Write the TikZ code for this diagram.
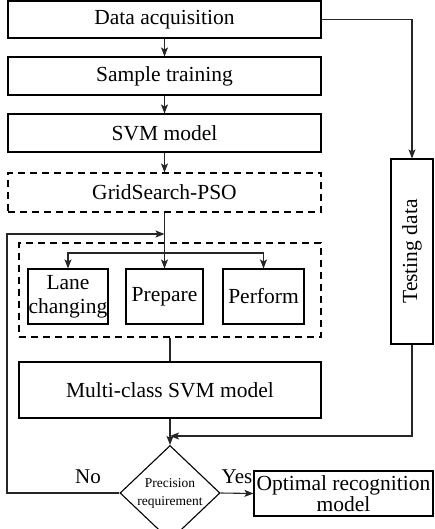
\documentclass[tikz,border=0pt]{standalone}
\usepackage{fontspec}
\setmainfont{Liberation Serif}
\usetikzlibrary{shapes.geometric,arrows.meta}
\tikzset{
  box/.style={draw, line width=1.1pt, inner sep=0pt, align=center, font=\fontsize{21.5}{24}\selectfont},
  dbox/.style={box, dash pattern=on 7pt off 5pt},
  arr/.style={-{Stealth[length=9pt,width=7pt,inset=2pt]}},
  ln/.style={line width=1.1pt, draw=black!85},
  lbl/.style={font=\fontsize{21}{23}\selectfont, inner sep=0pt}
}
\begin{document}
\begin{tikzpicture}[x=1pt,y=-1pt]
\useasboundingbox (0,0) rectangle (434,529);
% main column
\node[box, minimum width=313pt, minimum height=37pt] (da) at (164.5,19.5) {Data acquisition};
\node[box, minimum width=313pt, minimum height=38pt] (st) at (164.5,76) {Sample training};
\node[box, minimum width=313pt, minimum height=38pt] (svm) at (164.5,133) {SVM model};
\node[dbox, minimum width=313pt, minimum height=39pt] (gs) at (164.5,192.5) {GridSearch-PSO};
\node[dbox, minimum width=302pt, minimum height=94pt] (inner) at (170,290) {};
\node[box, minimum width=80pt, minimum height=55pt] (lane) at (68,296.5) {Lane\\changing};
\node[box, minimum width=77pt, minimum height=55pt] (prep) at (164.5,296.5) {Prepare};
\node[box, minimum width=81pt, minimum height=55pt] (perf) at (263.5,296.5) {Perform};
\node[box, minimum width=302pt, minimum height=56pt] (multi) at (170,390) {Multi-class SVM model};
\node[draw, line width=1.1pt, diamond, minimum width=100pt, minimum height=70pt, inner sep=0pt, align=center, font=\fontsize{13.5}{18}\selectfont] (dia) at (170,493) {Precision\\requirement};
\node[box, minimum width=179pt, minimum height=45pt, font=\fontsize{21.5}{21}\selectfont] (opt) at (343.5,493.5) {Optimal recognition\\model};
\node[box, rotate=90, minimum width=185pt, minimum height=42pt] (test) at (412,251.5) {Testing data};
% labels
\node[lbl] (no) at (88,477) {No};
\node[lbl] (yes) at (237,477) {Yes};
% helper coordinates
\coordinate (br) at (164.5,253);
\coordinate (fb) at (7,234);
\coordinate (fbend) at (164.5,234);
\coordinate (join) at (170,436);
% connectors
\draw[ln,arr] (da) -- (st);
\draw[ln,arr] (st) -- (svm);
\draw[ln,arr] (svm) -- (gs);
\draw[ln,arr] (gs.south) -- (prep.north);
\draw[ln,arr] (br) -| (lane.north);
\draw[ln,arr] (br) -| (perf.north);
\draw[ln] (inner.south) -- (multi.north);
\draw[ln,arr] (multi.south) -- (dia.north);
\draw[ln,arr] (da.east) -| (test.east);
\draw[ln,arr] (test.west) |- (join);
\draw[ln,arr] (dia.west) -| (fb) -- (fbend);
\draw[ln,arr] (dia.east) -- (opt.west);
\end{tikzpicture}
\end{document}
